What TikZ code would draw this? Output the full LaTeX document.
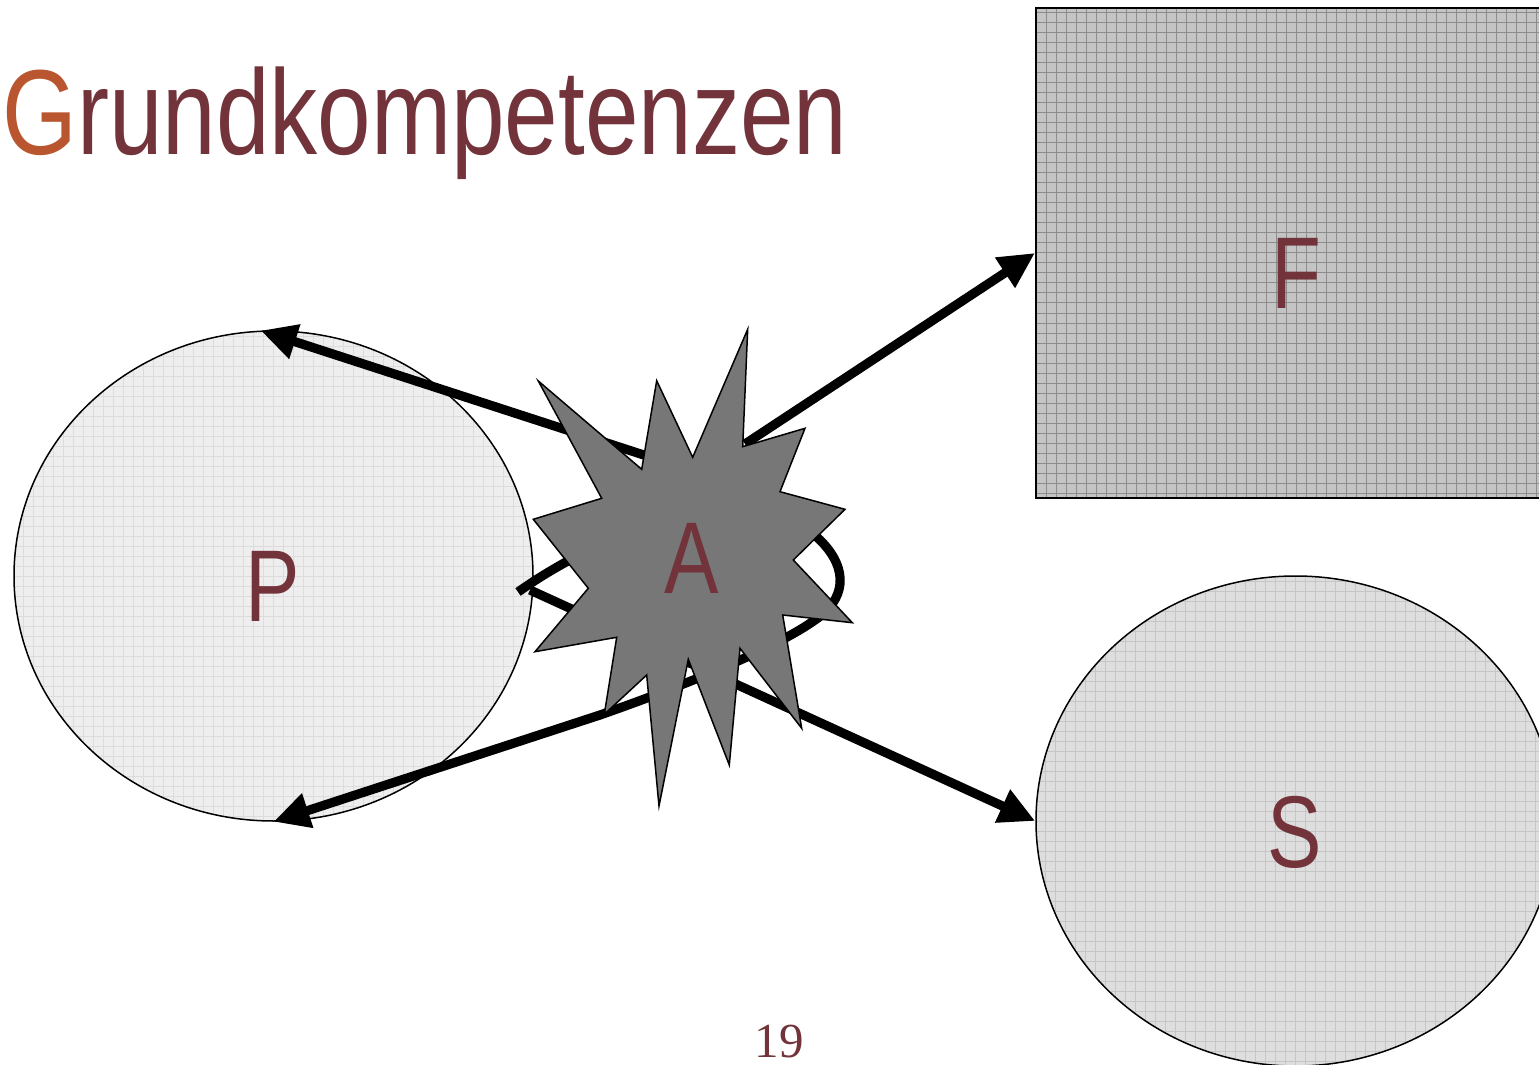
\documentclass[tikz,border=0pt]{standalone}
\usepackage{fontspec}
\setmainfont{Liberation Sans}
\newfontfamily\seriffont{Liberation Serif}
\usetikzlibrary{shapes.geometric,arrows.meta}
\definecolor{maroon}{HTML}{72343A}
\definecolor{rust}{HTML}{B9562F}
\definecolor{pfill}{HTML}{EEEEEE}
\definecolor{pgrid}{HTML}{DCDCDC}
\definecolor{sfill}{HTML}{DEDEDE}
\definecolor{sgrid}{HTML}{C6C6C6}
\definecolor{ffill}{HTML}{C4C4C4}
\definecolor{fgrid}{HTML}{8C8C8C}
\definecolor{starfill}{HTML}{777777}
\begin{document}
\begin{tikzpicture}[x=0.5pt,y=-0.5pt,
  blob/.style={ellipse, draw=black, line width=0.75pt, inner sep=0pt,
    minimum width=259.5pt, minimum height=245pt},
  gridfill/.style={path picture={\draw[#1, line width=0.5pt, step=5pt]
    (path picture bounding box.south west) grid (path picture bounding box.north east);}},
  conn/.style={line width=4.6pt, -{Triangle[length=18pt,width=17pt]}},
  letter/.style={text=maroon, font=\fontsize{51}{51}\selectfont, inner sep=0pt},
]
\clip (0,0) rectangle (1539,1065);

% shapes
\node[blob, fill=pfill, gridfill=pgrid] (P) at (273.5,576) {};
\node[blob, fill=sfill, gridfill=sgrid] (S) at (1295.5,821) {};
\node[rectangle, draw=black, line width=1pt, fill=ffill, gridfill=fgrid,
  minimum width=260pt, minimum height=245pt, inner sep=0pt] (F) at (1296,253) {};

% connector end points
\coordinate (A) at (692,560);
\coordinate (a1) at (650,457);
\coordinate (a2) at (745,444);
\coordinate (p3) at (518,592);
\coordinate (p4) at (530,590);

% connectors
\draw[conn] (a1) -- (P.93);
\draw[conn] (a2) -- (F.west);
\draw[conn] (p3) .. controls (620,520) and (760,480) .. (820,540)
  .. controls (850,570) and (845,600) .. (815,620)
  .. controls (780,645) and (700,680) .. (600,715) -- (P.south);
\draw[conn] (p4) -- (S.west);

% star
\draw[fill=starfill, line width=0.75pt, line join=miter]
  (747.7,329.3) -- (742.7,446.7) -- (805,428.3) -- (780,491.7) -- (845,509.3)
  -- (793.3,560) -- (852.3,622.7) -- (782.7,615) -- (801.7,728.3) -- (740,648.3)
  -- (729.3,765) -- (688.3,659.3) -- (659,806) -- (646.7,675) -- (604.3,714.3)
  -- (616.7,637.3) -- (535,651.7) -- (588.3,588.3) -- (533.3,519.3) -- (601.7,498.3)
  -- (538.3,381) -- (641.7,469.3) -- (656.7,380.7) -- (692.7,457.3) -- cycle;

% labels
\node[letter] (Alabel) at (692,558) {\scalebox{0.8}[1]{A}};
\node[letter] (Plabel) at (273,586) {\scalebox{0.8}[1]{P}};
\node[letter] (Flabel) at (1296,273) {\scalebox{0.8}[1]{F}};
\node[letter] (Slabel) at (1295,832) {\scalebox{0.8}[1]{S}};

\node[anchor=base west, inner sep=0pt, font=\fontsize{60.5}{60.5}\selectfont] (title)
  at (2,155) {\scalebox{0.795}[1]{\textcolor{rust}{G}\textcolor{maroon}{rundkompetenzen}}};

\node[anchor=base, inner sep=0pt, text=maroon, font=\seriffont\fontsize{24.5}{24.5}\selectfont] (pg)
  at (779,1057) {19};
\end{tikzpicture}
\end{document}
